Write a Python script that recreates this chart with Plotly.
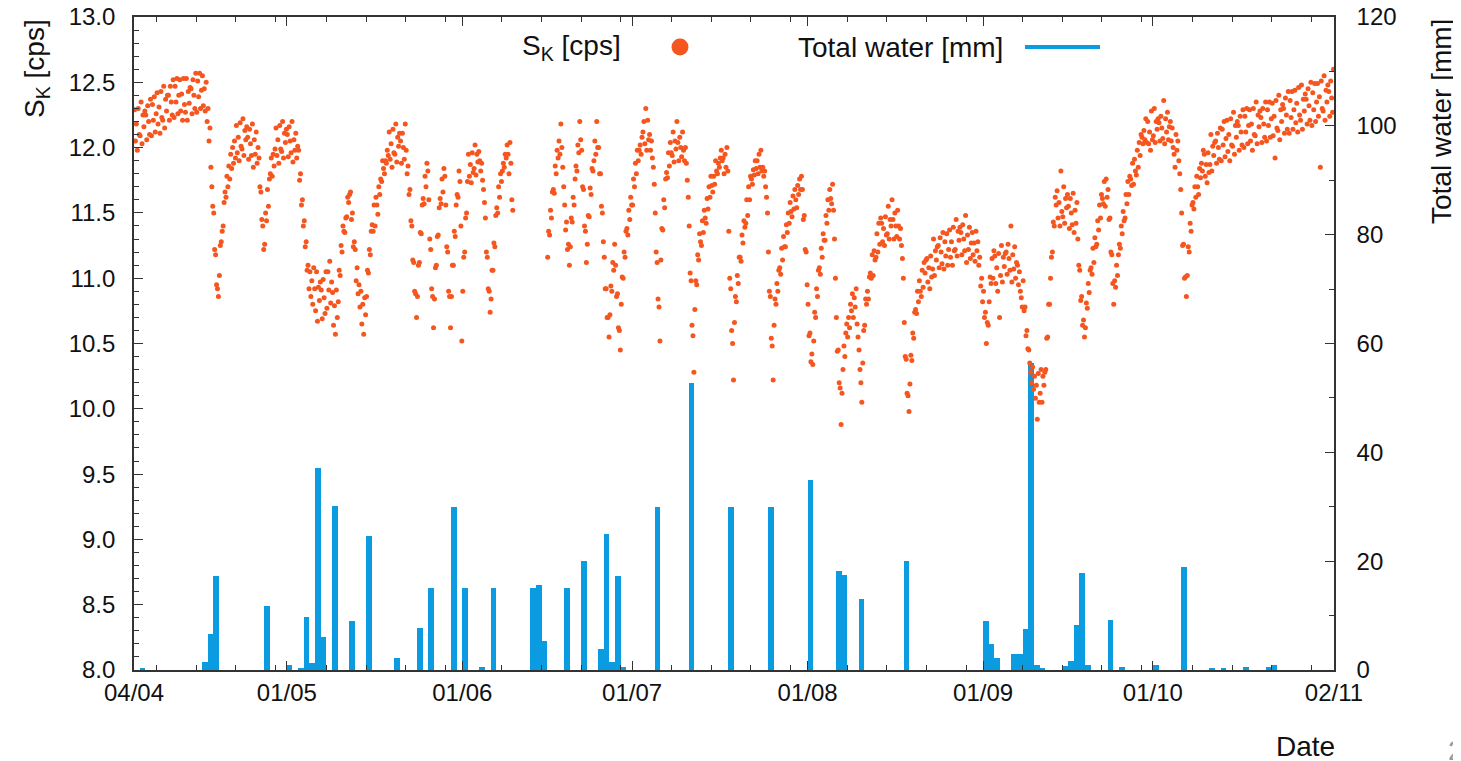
import plotly.graph_objects as go
from datetime import datetime, timedelta

# ---------------- data ----------------
month_starts = ["2017-04-04", "2017-05-01", "2017-06-01", "2017-07-01",
                "2017-08-01", "2017-09-01", "2017-10-01", "2017-11-01"]
slot_hours = [2, 6, 10, 14, 18, 22]

sk_apr = [
    [12.29, 12.05, 12.18, 11.98, 12.30, 12.10], [12.09, 12.35, 12.03, 12.25, 12.16, 12.28],
    [12.25, 12.06, 12.32, 12.20, 12.10, 12.37], [12.09, 12.33, 12.21, 12.39, 12.12, 12.26],
    [12.42, 12.18, 12.31, 12.11, 12.43, 12.23], [12.21, 12.47, 12.15, 12.37, 12.28, 12.40],
    [12.40, 12.21, 12.47, 12.35, 12.25, 12.52], [12.23, 12.47, 12.35, 12.53, 12.26, 12.40],
    [12.52, 12.28, 12.41, 12.21, 12.53, 12.33], [12.27, 12.53, 12.21, 12.43, 12.34, 12.46],
    [12.45, 12.26, 12.52, 12.40, 12.30, 12.57], [12.27, 12.51, 12.39, 12.57, 12.30, 12.44],
    [12.55, 12.32, 12.45, 12.28, 12.50, 12.20], [12.30, 12.05, 12.15, 11.85, 11.70, 11.55],
    [11.50, 11.22, 11.18, 10.95, 10.92, 10.86], [11.02, 11.25, 11.28, 11.36, 11.40, 11.58],
    [11.66, 11.62, 11.78, 11.70, 11.86, 11.76], [11.95, 11.84, 12.00, 11.88, 12.05, 11.92],
    [12.17, 11.96, 12.08, 11.90, 12.19, 12.01], [11.99, 12.22, 11.94, 12.13, 12.06, 12.16],
    [12.08, 11.91, 12.14, 12.03, 11.94, 12.18], [11.85, 12.06, 11.95, 12.12, 11.88, 12.00],
    [11.92, 11.70, 11.66, 11.45, 11.40, 11.22], [11.26, 11.50, 11.44, 11.68, 11.55, 11.76],
    [11.80, 11.92, 11.78, 11.95, 11.86, 11.99], [12.15, 11.94, 12.06, 11.88, 12.17, 11.99],
    [11.97, 12.20, 11.92, 12.11, 12.04, 12.14],
]
sk_may = [
    [12.10, 11.93, 12.16, 12.05, 11.96, 12.20], [11.89, 12.06, 11.98, 12.11, 11.92, 12.01],
    [11.98, 11.75, 11.80, 11.56, 11.60, 11.40], [11.44, 11.24, 11.28, 11.06, 11.10, 10.92],
    [11.05, 10.86, 10.98, 10.80, 11.08, 10.92], [10.75, 11.05, 10.67, 10.93, 10.83, 10.97],
    [10.91, 10.69, 10.99, 10.85, 10.73, 11.05], [10.77, 11.05, 10.91, 11.13, 10.81, 10.97],
    [10.89, 10.64, 10.79, 10.57, 10.91, 10.70], [10.82, 11.06, 11.02, 11.25, 11.20, 11.40],
    [11.36, 11.35, 11.46, 11.47, 11.62, 11.58], [11.64, 11.66, 11.45, 11.50, 11.24, 11.28],
    [11.22, 10.98, 11.08, 10.88, 10.95, 10.78], [10.90, 10.65, 10.80, 10.57, 10.85, 10.72],
    [10.86, 11.06, 11.04, 11.22, 11.18, 11.36], [11.41, 11.36, 11.56, 11.40, 11.62, 11.56],
    [11.49, 11.70, 11.64, 11.76, 11.74, 11.90], [11.84, 11.80, 11.90, 11.88, 11.98, 11.94],
    [12.12, 11.91, 12.03, 11.85, 12.14, 11.96], [11.95, 12.18, 11.89, 12.08, 12.01, 12.11],
    [12.05, 11.88, 12.11, 12.00, 11.91, 12.18], [11.98, 11.80, 11.86, 11.64, 11.68, 11.44],
    [11.40, 11.14, 11.12, 10.90, 10.88, 10.70], [10.86, 11.10, 11.12, 11.35, 11.34, 11.56],
    [11.61, 11.57, 11.78, 11.70, 11.88, 11.82], [11.60, 11.30, 11.22, 10.92, 10.86, 10.62],
    [10.84, 11.08, 11.10, 11.32, 11.33, 11.54], [11.61, 11.57, 11.76, 11.66, 11.84, 11.78],
    [11.56, 11.24, 11.20, 10.90, 10.86, 10.62], [10.86, 11.10, 11.10, 11.36, 11.32, 11.56],
    [11.64, 11.62, 11.82, 11.74, 11.40, 10.52],
]
sk_jun = [
    [10.90, 11.16, 11.20, 11.46, 11.50, 11.74], [11.95, 11.78, 11.87, 11.73, 11.96, 11.81],
    [11.84, 12.02, 11.79, 11.95, 11.89, 11.97], [11.90, 11.82, 11.88, 11.75, 11.68, 11.58],
    [11.46, 11.20, 11.16, 10.92, 10.90, 10.74], [10.84, 11.06, 11.06, 11.27, 11.24, 11.48],
    [11.54, 11.50, 11.70, 11.62, 11.80, 11.74], [11.82, 11.88, 11.85, 11.95, 11.92, 12.02],
    [11.95, 11.80, 12.04, 11.88, 11.60, 11.52],
    [], [], [], [], [], [],
    [11.16, 11.36, 11.33, 11.52, 11.46, 11.66], [11.68, 11.65, 11.86, 11.80, 11.98, 11.92],
    [12.05, 11.95, 12.18, 12.00, 11.85, 11.70], [11.56, 11.37, 11.43, 11.22, 11.26, 11.10],
    [11.24, 11.46, 11.43, 11.62, 11.56, 11.76], [11.86, 11.82, 12.02, 11.96, 12.20, 12.06],
    [11.98, 11.70, 11.68, 11.40, 11.36, 11.12], [11.26, 11.48, 11.47, 11.69, 11.64, 11.84],
    [11.82, 11.90, 12.05, 11.95, 12.20, 12.00], [12.00, 11.80, 11.80, 11.55, 11.50, 11.28],
    [11.16, 10.92, 10.92, 10.70, 10.70, 10.55], [10.72, 10.94, 10.90, 11.12, 11.06, 11.26],
    [11.10, 10.86, 10.88, 10.62, 10.60, 10.45], [10.80, 11.01, 11.00, 11.20, 11.16, 11.36],
    [11.38, 11.33, 11.52, 11.45, 11.62, 11.56],
]
sk_jul = [
    [11.56, 11.76, 11.70, 11.88, 11.80, 11.98], [11.90, 11.98, 12.02, 11.95, 12.08, 12.12],
    [12.20, 12.03, 12.30, 11.98, 12.21, 12.06], [12.10, 11.98, 12.05, 11.92, 11.85, 11.72],
    [11.50, 11.20, 11.12, 10.84, 10.78, 10.52], [11.14, 11.38, 11.37, 11.60, 11.54, 11.76],
    [11.81, 11.77, 11.96, 11.86, 12.04, 11.96], [11.94, 12.12, 11.89, 12.05, 11.99, 12.20],
    [12.04, 11.90, 12.08, 12.00, 11.93, 12.12], [11.98, 11.90, 12.00, 11.88, 11.75, 11.62],
    [11.40, 11.04, 10.98, 10.64, 10.56, 10.28], [10.76, 10.98, 10.95, 11.18, 11.14, 11.34],
    [11.28, 11.25, 11.44, 11.35, 11.52, 11.46], [11.42, 11.61, 11.53, 11.70, 11.62, 11.78],
    [11.71, 11.66, 11.78, 11.72, 11.90, 11.82], [11.80, 11.88, 11.85, 11.92, 11.98, 11.90],
    [11.92, 11.80, 11.95, 11.85, 12.00, 11.82], [11.36, 11.00, 10.92, 10.60, 10.50, 10.22],
    [10.66, 10.86, 10.82, 11.02, 10.96, 11.16], [11.16, 11.13, 11.33, 11.27, 11.44, 11.39],
    [11.42, 11.60, 11.48, 11.70, 11.60, 11.78], [11.76, 11.72, 11.83, 11.79, 11.90, 11.84],
    [11.90, 11.80, 11.95, 11.85, 11.98, 11.82], [11.85, 11.78, 11.82, 11.70, 11.62, 11.50],
    [11.20, 10.90, 10.86, 10.54, 10.48, 10.22], [10.64, 10.84, 10.80, 10.96, 10.90, 11.06],
    [11.08, 11.03, 11.23, 11.14, 11.32, 11.24], [11.24, 11.41, 11.35, 11.50, 11.42, 11.58],
    [11.51, 11.47, 11.63, 11.53, 11.68, 11.60], [11.54, 11.71, 11.64, 11.76, 11.68, 11.78],
    [11.68, 11.45, 11.48, 11.22, 11.20, 10.95],
]
sk_aug = [
    [10.80, 10.56, 10.58, 10.36, 10.42, 10.34], [10.52, 10.74, 10.70, 10.92, 10.86, 11.06],
    [11.08, 11.03, 11.23, 11.16, 11.34, 11.29], [11.29, 11.48, 11.42, 11.60, 11.52, 11.68],
    [11.61, 11.57, 11.72, 11.52, 11.30, 11.00], [10.70, 10.44, 10.45, 10.20, 10.16, 9.88],
    [10.12, 10.30, 10.48, 10.40, 10.58, 10.65], [10.55, 10.70, 10.62, 10.80, 10.75, 10.88],
    [10.70, 10.85, 10.78, 10.92, 10.65, 10.55], [10.45, 10.30, 10.20, 10.05, 10.35, 10.60],
    [10.64, 10.84, 10.80, 10.90, 10.84, 11.01], [11.04, 11.00, 11.18, 11.02, 11.21, 11.14],
    [11.16, 11.34, 11.20, 11.42, 11.26, 11.46], [11.42, 11.28, 11.38, 11.25, 11.47, 11.33],
    [11.34, 11.55, 11.30, 11.45, 11.40, 11.60], [11.45, 11.30, 11.50, 11.40, 11.32, 11.52],
    [11.40, 11.30, 11.38, 11.25, 11.15, 11.00], [10.66, 10.40, 10.38, 10.12, 10.10, 9.98],
    [10.19, 10.41, 10.37, 10.58, 10.54, 10.74], [10.76, 10.73, 10.90, 10.82, 10.98, 10.90],
    [10.86, 11.06, 10.93, 11.12, 11.04, 11.14], [11.15, 10.97, 11.08, 10.92, 11.17, 11.01],
    [11.07, 11.30, 11.02, 11.21, 11.14, 11.24], [11.25, 11.08, 11.31, 11.20, 11.11, 11.35],
    [11.07, 11.28, 11.17, 11.34, 11.10, 11.22], [11.37, 11.16, 11.28, 11.10, 11.39, 11.21],
    [11.22, 11.45, 11.17, 11.36, 11.29, 11.39], [11.35, 11.18, 11.41, 11.30, 11.21, 11.48],
    [11.12, 11.33, 11.22, 11.39, 11.15, 11.27], [11.35, 11.18, 11.27, 11.13, 11.36, 11.21],
    [11.28, 11.10, 11.16, 10.94, 11.00, 10.82],
]
sk_sep = [
    [10.90, 10.70, 10.74, 10.50, 10.66, 10.64], [10.82, 11.01, 10.96, 11.15, 11.00, 11.21],
    [11.17, 10.96, 11.08, 10.90, 11.19, 10.70], [11.02, 11.25, 10.97, 11.16, 11.09, 11.19],
    [11.20, 11.03, 11.26, 11.15, 11.06, 11.40], [10.97, 11.18, 11.07, 11.24, 11.00, 11.12],
    [11.10, 10.95, 11.05, 10.90, 10.85, 10.78], [10.98, 10.75, 10.78, 10.56, 10.60, 10.46],
    [10.45, 10.35, 10.28, 10.20, 10.32, 10.15], [10.25, 10.08, 10.18, 9.92, 10.27, 10.05],
    [10.12, 10.30, 10.05, 10.25, 10.18, 10.28], [10.30, 10.54, 10.55, 10.80, 10.80, 11.00],
    [11.16, 11.20, 11.43, 11.40, 11.62, 11.56], [11.67, 11.46, 11.58, 11.40, 11.82, 11.51],
    [11.47, 11.70, 11.42, 11.61, 11.54, 11.64], [11.55, 11.38, 11.61, 11.50, 11.41, 11.65],
    [11.35, 11.52, 11.42, 11.58, 11.30, 11.10], [11.06, 10.83, 10.86, 10.64, 10.68, 10.55],
    [10.62, 10.81, 10.77, 10.96, 10.89, 11.06], [11.08, 11.03, 11.23, 11.12, 11.31, 11.24],
    [11.26, 11.44, 11.37, 11.56, 11.46, 11.64], [11.61, 11.57, 11.74, 11.55, 11.76, 11.62],
    [11.68, 11.45, 11.46, 11.20, 11.18, 10.96], [10.80, 10.98, 10.93, 11.10, 11.02, 11.18],
    [11.26, 11.23, 11.40, 11.34, 11.51, 11.44], [11.46, 11.64, 11.57, 11.74, 11.64, 11.78],
    [11.76, 11.71, 11.88, 11.72, 11.91, 11.82], [11.79, 11.98, 11.85, 12.04, 11.94, 12.10],
    [12.08, 12.03, 12.13, 12.06, 12.22, 12.04], [12.20, 12.03, 12.12, 11.98, 12.28, 12.06],
]
sk_oct = [
    [12.09, 12.30, 12.04, 12.20, 12.14, 12.22], [12.19, 12.05, 12.24, 12.15, 12.07, 12.36],
    [12.03, 12.22, 12.12, 12.27, 12.06, 12.16], [12.20, 12.05, 12.15, 12.00, 11.95, 11.85],
    [12.10, 11.98, 12.05, 11.90, 11.80, 11.68], [11.50, 11.25, 11.26, 11.00, 11.01, 10.86],
    [11.02, 11.24, 11.20, 11.42, 11.36, 11.56], [11.58, 11.53, 11.70, 11.62, 11.78, 11.70],
    [11.64, 11.84, 11.77, 11.88, 11.82, 11.98], [11.95, 11.78, 11.87, 11.73, 11.96, 11.81],
    [11.87, 12.10, 11.82, 12.01, 11.94, 12.04], [12.05, 11.88, 12.11, 12.00, 11.91, 12.15],
    [11.90, 12.14, 12.02, 12.20, 11.93, 12.07], [12.21, 11.97, 12.10, 11.90, 12.22, 12.02],
    [12.01, 12.27, 11.95, 12.17, 12.08, 12.20], [12.17, 11.98, 12.24, 12.12, 12.02, 12.29],
    [12.00, 12.24, 12.12, 12.30, 12.03, 12.17], [12.29, 12.05, 12.18, 11.98, 12.30, 12.10],
    [12.09, 12.35, 12.03, 12.25, 12.16, 12.28], [12.23, 12.04, 12.30, 12.18, 12.08, 12.35],
    [12.05, 12.29, 12.17, 12.35, 12.08, 12.22], [12.34, 12.09, 12.24, 11.92, 12.36, 12.15],
    [12.13, 12.40, 12.06, 12.29, 12.20, 12.33], [12.30, 12.11, 12.38, 12.25, 12.14, 12.43],
    [12.11, 12.36, 12.23, 12.43, 12.14, 12.29], [12.44, 12.19, 12.34, 12.12, 12.46, 12.25],
    [12.21, 12.48, 12.14, 12.37, 12.28, 12.41], [12.37, 12.18, 12.45, 12.32, 12.21, 12.50],
    [12.17, 12.42, 12.29, 12.49, 12.20, 12.35], [12.49, 12.24, 12.39, 11.85, 12.51, 12.30],
    [12.28, 12.55, 12.21, 12.44, 12.35, 12.48],
]
sk_nov = [
    [12.43, 12.24, 12.51, 12.38, 12.27, 12.60],
]

rain_dates = ["2017-04-05", "2017-04-16", "2017-04-17", "2017-04-18", "2017-04-27",
              "2017-05-01", "2017-05-03", "2017-05-04", "2017-05-05", "2017-05-06",
              "2017-05-07", "2017-05-09", "2017-05-12", "2017-05-15", "2017-05-20",
              "2017-05-24", "2017-05-26", "2017-05-30", "2017-06-01", "2017-06-04",
              "2017-06-06", "2017-06-13", "2017-06-14", "2017-06-15", "2017-06-19",
              "2017-06-22", "2017-06-25", "2017-06-26", "2017-06-27", "2017-06-28",
              "2017-06-29", "2017-07-05", "2017-07-11", "2017-07-18", "2017-07-25",
              "2017-08-01", "2017-08-06", "2017-08-07", "2017-08-10", "2017-08-18",
              "2017-09-01", "2017-09-02", "2017-09-03", "2017-09-06", "2017-09-07",
              "2017-09-08", "2017-09-09", "2017-09-10", "2017-09-11", "2017-09-15",
              "2017-09-16", "2017-09-17", "2017-09-18", "2017-09-19", "2017-09-23",
              "2017-09-25", "2017-10-01", "2017-10-06", "2017-10-11", "2017-10-13",
              "2017-10-17", "2017-10-21", "2017-10-22"]
rain_mm = [0.3, 1.5, 6.7, 17.3, 11.8,
           1.0, 0.3, 9.8, 1.2, 37.2,
           6.0, 30.2, 9.0, 24.7, 2.2,
           7.7, 15.0, 30.0, 15.0, 0.5,
           15.0, 15.0, 15.6, 5.3, 15.0,
           20.0, 3.8, 25.0, 1.4, 17.3,
           0.5, 30.0, 52.8, 30.0, 30.0,
           35.0, 18.2, 17.5, 13.0, 20.0,
           9.0, 4.8, 2.2, 3.0, 3.0,
           7.5, 56.4, 0.9, 0.4, 0.7,
           1.6, 8.3, 17.9, 0.9, 9.1,
           0.5, 0.9, 19.0, 0.4, 0.4,
           0.5, 0.6, 0.9]

x_tick_dates = ["2017-04-04", "2017-05-01", "2017-06-01", "2017-07-01",
                "2017-08-01", "2017-09-01", "2017-10-01", "2017-11-02"]
x_tick_text = ["04/04", "01/05", "01/06", "01/07", "01/08", "01/09", "01/10", "02/11"]
left_ticks = [8.0, 8.5, 9.0, 9.5, 10.0, 10.5, 11.0, 11.5, 12.0, 12.5, 13.0]
right_ticks = [0, 20, 40, 60, 80, 100, 120]

# ---------------- build ----------------
ORANGE = "#f5561f"
BLUE = "#0b9be0"
AX = "#333333"
FONT = "Liberation Sans, Arial, Helvetica, sans-serif"

sk_months = [sk_apr, sk_may, sk_jun, sk_jul, sk_aug, sk_sep, sk_oct, sk_nov]
sk_t, sk_v = [], []
for start, month in zip(month_starts, sk_months):
    d0 = datetime.strptime(start, "%Y-%m-%d")
    for i, day_vals in enumerate(month):
        for h, v in zip(slot_hours, day_vals):
            sk_t.append(d0 + timedelta(days=i, hours=h))
            sk_v.append(v)

rain_x = [datetime.strptime(d, "%Y-%m-%d") + timedelta(hours=12) for d in rain_dates]

minor_x = []
for m in range(4, 11):
    for dd in (8, 15, 22, 29):
        minor_x.append(datetime(2017, m, dd))

fig = go.Figure()
fig.add_trace(go.Bar(x=rain_x, y=rain_mm, width=86400000,
                     marker=dict(color=BLUE, line=dict(width=0)),
                     yaxis="y", showlegend=False))
fig.add_trace(go.Scatter(x=sk_t, y=sk_v, mode="markers",
                         marker=dict(size=5.0, color=ORANGE, line=dict(width=0)),
                         yaxis="y2", showlegend=False))

# page offset (body margin) compensation: figure drawn at (8, 8) in the window
OFF = 8
W, H = 1461 - OFF, 761 - OFF
PL, PR, PT, PB = 134 - OFF, 1334 - OFF, 17 - OFF, 670 - OFF


def px(x):
    return (x - OFF - PL) / (PR - PL)


def py(y):
    return (PB - (y - OFF)) / (PB - PT)


tickfont = dict(family=FONT, size=24, color="#111111")
fig.update_layout(
    width=W, height=H,
    margin=dict(l=PL, r=W - PR, t=PT, b=H - PB, pad=0, autoexpand=False),
    paper_bgcolor="white", plot_bgcolor="white",
    showlegend=False, bargap=0,
    font=dict(family=FONT, color="#111111"),
    xaxis=dict(type="date", range=["2017-04-04", "2017-11-02"], automargin=False,
               tickmode="array", tickvals=x_tick_dates, ticktext=x_tick_text,
               ticks="inside", ticklen=9, tickwidth=1.3, tickcolor=AX,
               showline=True, linecolor=AX, linewidth=1.6, mirror="ticks",
               showgrid=False, zeroline=False, tickfont=tickfont,
               ticklabelstandoff=0, ticklabeloverflow="allow",
               minor=dict(tickvals=minor_x, ticks="inside", ticklen=5,
                          tickwidth=1.2, tickcolor=AX, showgrid=False)),
    yaxis=dict(range=[0, 120], side="right", tickmode="array", tickvals=right_ticks,
               automargin=False, ticklabeloverflow="allow",
               ticks="inside", ticklen=9, tickwidth=1.3, tickcolor=AX,
               showline=True, linecolor=AX, linewidth=1.6,
               showgrid=False, zeroline=False, tickfont=tickfont,
               ticklabelstandoff=16,
               minor=dict(dtick=10, ticks="inside", ticklen=5, tickwidth=1.2,
                          tickcolor=AX, showgrid=False)),
    yaxis2=dict(range=[8, 13], side="left", overlaying="y", tickmode="array",
                automargin=False, ticklabeloverflow="allow",
                tickvals=left_ticks, ticktext=[f"{v:.1f}" for v in left_ticks],
                ticks="inside", ticklen=9, tickwidth=1.3, tickcolor=AX,
                showline=True, linecolor=AX, linewidth=1.6,
                showgrid=False, zeroline=False, tickfont=tickfont,
                ticklabelstandoff=12,
                minor=dict(dtick=0.1, ticks="inside", ticklen=5, tickwidth=1.2,
                           tickcolor=AX, showgrid=False)),
)

title_font = dict(family=FONT, size=28, color="#111111")
fig.add_annotation(text="S<sub>K</sub> [cps]", x=px(623), y=py(47), xref="paper", yref="paper",
                   xanchor="right", yanchor="middle", showarrow=False, font=title_font)
fig.add_annotation(text="Total water [mm]", x=px(1005), y=py(47), xref="paper", yref="paper",
                   xanchor="right", yanchor="middle", showarrow=False, font=title_font)
fig.add_shape(type="circle", xref="paper", yref="paper",
              x0=px(671.5), x1=px(688.5), y0=py(55.5), y1=py(38.5),
              fillcolor=ORANGE, line=dict(width=0))
fig.add_shape(type="line", xref="paper", yref="paper",
              x0=px(1025), x1=px(1100), y0=py(47), y1=py(47),
              line=dict(color=BLUE, width=4))
fig.add_annotation(text="S<sub>K</sub> [cps]", x=px(37), y=py(69), xref="paper", yref="paper",
                   xanchor="center", yanchor="middle", textangle=-90, showarrow=False,
                   font=title_font)
fig.add_annotation(text="Total water [mm]", x=px(1441), y=py(122), xref="paper", yref="paper",
                   xanchor="center", yanchor="middle", textangle=-90, showarrow=False,
                   font=title_font)
fig.add_annotation(text="Date", x=px(1305), y=py(746), xref="paper", yref="paper",
                   xanchor="center", yanchor="middle", showarrow=False, font=title_font)
fig.add_annotation(text="23", x=px(1446), y=py(750), xref="paper", yref="paper",
                   xanchor="left", yanchor="middle", showarrow=False,
                   font=dict(family=FONT, size=28, color="#9a9a9a"))

fig.write_html("out.html")
